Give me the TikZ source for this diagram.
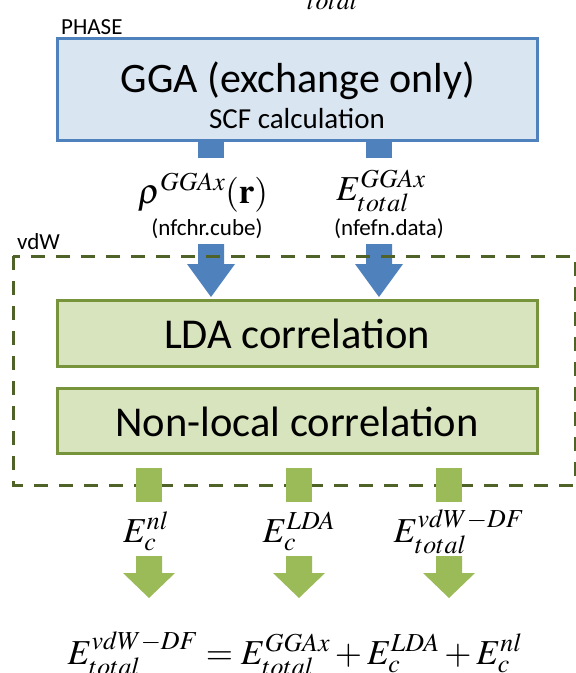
\documentclass[tikz,border=0pt]{standalone}
\usepackage{mathptmx}
\usepackage[no-math]{fontspec}
\setmainfont{Carlito}
\usetikzlibrary{calc}
\definecolor{bluebd}{HTML}{4F81BD}
\definecolor{bluefl}{HTML}{D9E5F1}
\definecolor{greenbd}{HTML}{77933C}
\definecolor{greenfl}{HTML}{D7E4BD}
\definecolor{greenar}{HTML}{9BBB59}
\definecolor{olivedash}{HTML}{4F6228}
% block arrow: color, coordinate of stem top centre, stem length, half stem, head length, half head
\newcommand\myblockarrow[6]{%
  \fill[#1] ($(#2)+(-#4,0)$) -- ++(0,#3) -- ++(-#6+#4,0) -- ($(#2)+(0,#3+#5)$)
     -- ($(#2)+(#6,#3)$) -- ++(-#6+#4,0) -- ($(#2)+(#4,0)$) -- cycle;}
\begin{document}
\begin{tikzpicture}[x=1pt,y=-1pt,
  lbl/.style={font=\fontsize{23}{25}\selectfont, inner sep=0pt},
  gbox/.style={draw=greenbd, fill=greenfl, line width=3pt, minimum width=480pt, inner sep=0pt},
  bigtxt/.style={font=\fontsize{42.5}{45}\selectfont, inner sep=0pt},
  mathlbl/.style={font=\fontsize{35}{40}\selectfont, inner sep=0pt},
  filelbl/.style={font=\fontsize{23}{26}\selectfont, inner sep=0pt},
]
\useasboundingbox (0,0) rectangle (576,673);
\fill[white] (0,0) rectangle (576,673);

% cropped text at the very top
\node[mathlbl, anchor=base] (toptotal) at (333,4) {$_{total}$};

% PHASE block
\node[lbl, anchor=base west] (phase) at (61,34) {PHASE};
\draw[draw=bluebd, fill=bluefl, line width=3pt] (57,38) rectangle (537,140);
\node[font=\fontsize{42}{45}\selectfont, inner sep=0pt, anchor=base] (ggatxt) at (298,92) {GGA (exchange only)};
\node[font=\fontsize{29}{31}\selectfont, inner sep=0pt, anchor=base] (scf) at (297,128) {SCF calculation};

% stems under the GGA box
\coordinate (s1) at (211,141);
\coordinate (s2) at (379,141);
\fill[bluebd] ($(s1)+(-13,0)$) rectangle ($(s1)+(13,17)$);
\fill[bluebd] ($(s2)+(-13,0)$) rectangle ($(s2)+(13,17)$);

% labels
\node[mathlbl, anchor=base] (rho) at (203,203) {$\rho^{GGAx}(\mathbf{r})$};
\node[mathlbl, anchor=base] (egga) at (381,200) {$E_{total}^{GGAx}$};
\node[filelbl, anchor=base] (cube) at (207,235) {(nfchr.cube)};
\node[filelbl, anchor=base] (data) at (389,235) {(nfefn.data)};

% blue arrows into vdW
\coordinate (a1) at (211,244);
\coordinate (a2) at (379,244);
\myblockarrow{bluebd}{a1}{20}{13}{33}{24}
\myblockarrow{bluebd}{a2}{20}{13}{33}{24}

% vdW frame
\node[lbl, anchor=base west] (vdw) at (17,249) {vdW};
\draw[olivedash, line width=3pt, dash pattern=on 14pt off 11pt] (13,256) rectangle (575,485);

% green boxes
\node[gbox, minimum height=66pt] (lda) at (297,333) {};
\node[bigtxt, anchor=base] (ldatxt) at (297,348) {LDA correlation};
\node[gbox, minimum height=65pt] (nl) at (297,420.5) {};
\node[bigtxt, anchor=base] (nltxt) at (297,436) {Non-local correlation};

% green stems
\coordinate (g1) at (149,468);
\coordinate (g2) at (299,468);
\coordinate (g3) at (449,468);
\foreach \g in {g1,g2,g3}{\fill[greenar] ($(\g)+(-13,0)$) rectangle ($(\g)+(13,34)$);}

% energy labels
\node[mathlbl, anchor=base] (enl) at (146,542) {$E_c^{nl}$};
\node[mathlbl, anchor=base] (elda) at (299,542) {$E_c^{LDA}$};
\node[mathlbl, anchor=base] (evdw) at (459,542) {$E_{total}^{vdW-DF}$};

% green arrows
\coordinate (h1) at (149,556);
\coordinate (h2) at (299,556);
\coordinate (h3) at (449,556);
\myblockarrow{greenar}{h1}{17}{13}{25}{26}
\myblockarrow{greenar}{h2}{17}{13}{25}{26}
\myblockarrow{greenar}{h3}{17}{13}{25}{26}

% final equation
\node[mathlbl, anchor=base] (eq) at (295,664) {$E_{total}^{vdW-DF} = E_{total}^{GGAx} + E_c^{LDA} + E_c^{nl}$};
\end{tikzpicture}
\end{document}
